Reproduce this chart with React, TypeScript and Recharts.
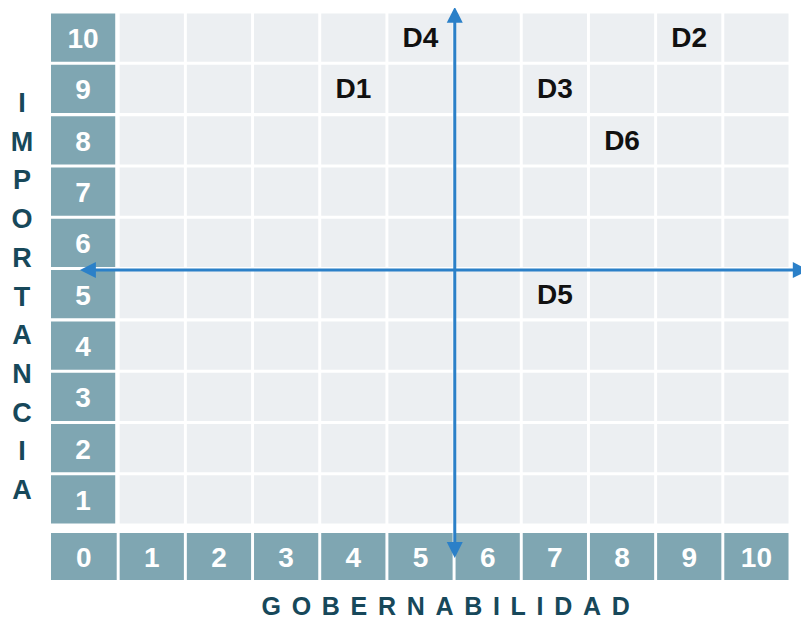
import { ScatterChart, Scatter, XAxis, YAxis, ReferenceArea, ReferenceLine } from 'recharts';

const COLUMNS = [0, 1, 2, 3, 4, 5, 6, 7, 8, 9, 10];
const ROWS = [1, 2, 3, 4, 5, 6, 7, 8, 9, 10];
const FACTORS = ['D1', 'D2', 'D3', 'D4', 'D5', 'D6'];
const GOBERNABILIDAD = [4, 9, 7, 5, 7, 8];
const IMPORTANCIA = [9, 10, 9, 10, 5, 8];
const Y_TITLE = 'IMPORTANCIA';
const X_TITLE = 'GOBERNABILIDAD';

const TEAL = '#7fa6b2';
const CELL = '#eceff2';
const BLUE = '#2b80c8';
const DARK = '#17485a';
const FONT = '"Liberation Sans", Arial, sans-serif';

const points = FACTORS.map((name, i) => ({ name, x: GOBERNABILIDAD[i], y: IMPORTANCIA[i] }));

const G = 0.022; // half gap between cells (x units)
const GY = 0.03;

const Arrow = (props: any) => {
  const { x1, y1, x2, y2 } = props;
  const dx = x2 - x1;
  const dy = y2 - y1;
  const len = Math.sqrt(dx * dx + dy * dy) || 1;
  const ux = dx / len;
  const uy = dy / len;
  const head = 16;
  const w = 8;
  const tri = (tx: number, ty: number, dirx: number, diry: number) => {
    const bx = tx - dirx * head;
    const by = ty - diry * head;
    return `${tx},${ty} ${bx - diry * w},${by + dirx * w} ${bx + diry * w},${by - dirx * w}`;
  };
  return (
    <g>
      <line x1={x1 + ux * 10} y1={y1 + uy * 10} x2={x2 - ux * 10} y2={y2 - uy * 10} stroke={BLUE} strokeWidth={3} />
      <polygon points={tri(x2, y2, ux, uy)} fill={BLUE} />
      <polygon points={tri(x1, y1, -ux, -uy)} fill={BLUE} />
    </g>
  );
};

// white number centred in a teal cell
const cellLabel = (value: number) => (props: any) => {
  const vb = props.viewBox || {};
  return (
    <text
      x={vb.x + vb.width / 2}
      y={vb.y + vb.height / 2 + 1}
      textAnchor="middle"
      dominantBaseline="central"
      fill="#ffffff"
      fontSize={28}
      fontWeight="bold"
      fontFamily={FONT}
    >
      {value}
    </text>
  );
};

export default function App() {
  return (
    <div style={{ margin: '-8px 0 0 -8px', width: 809, height: 623, background: '#fff' }}>
      <ScatterChart width={809} height={623} margin={{ top: 12, right: 19, bottom: 43, left: 51 }}>
        <XAxis type="number" dataKey="x" domain={[-0.5, 10.5]} hide />
        <YAxis type="number" dataKey="y" domain={[-0.57, 10.5]} hide />
        {ROWS.map((r) =>
          COLUMNS.map((c) =>
            c === 0 ? (
              <ReferenceArea
                key={`l${r}`}
                x1={c - 0.5}
                x2={c + 0.5 - 2 * G}
                y1={r - 0.5 + GY}
                y2={r + 0.5 - GY}
                fill={TEAL}
                fillOpacity={1}
                ifOverflow="visible"
                label={cellLabel(r)}
              />
            ) : (
              <ReferenceArea
                key={`c${r}-${c}`}
                x1={c - 0.5 + G}
                x2={c + 0.5 - G}
                y1={r - 0.5 + GY}
                y2={r + 0.5 - GY}
                fill={CELL}
                fillOpacity={1}
                ifOverflow="visible"
              />
            )
          )
        )}
        {COLUMNS.map((c) => (
          <ReferenceArea
            key={`b${c}`}
            x1={c === 0 ? c - 0.5 : c - 0.5 + G}
            x2={c + 0.5 - G}
            y1={-0.57}
            y2={0.344}
            fill={TEAL}
            fillOpacity={1}
            ifOverflow="visible"
            label={cellLabel(c)}
          />
        ))}
        <ReferenceLine
          segment={[{ x: 5.51, y: 10.6 }, { x: 5.51, y: -0.14 }]}
          ifOverflow="visible"
          shape={Arrow}
        />
        <ReferenceLine
          segment={[{ x: -0.07, y: 5.47 }, { x: 10.78, y: 5.47 }]}
          ifOverflow="visible"
          shape={Arrow}
        />
        <Scatter
          data={points}
          isAnimationActive={false}
          shape={(p: any) => (
            <text
              x={p.cx}
              y={p.cy}
              textAnchor="middle"
              dominantBaseline="central"
              fontSize={28}
              fontWeight="bold"
              fontFamily={FONT}
              fill="#111"
            >
              {p.payload.name}
            </text>
          )}
        />
        {Y_TITLE.split('').map((ch, i) => (
          <text
            key={`t${i}`}
            x={22}
            y={103 + i * 38.7}
            textAnchor="middle"
            dominantBaseline="central"
            fontSize={27}
            fontWeight="bold"
            fontFamily={FONT}
            fill={DARK}
          >
            {ch}
          </text>
        ))}
        <text
          x={451}
          y={606}
          textAnchor="middle"
          dominantBaseline="central"
          fontSize={25}
          fontWeight="bold"
          fontFamily={FONT}
          fill={DARK}
          letterSpacing={10.7}
        >
          {X_TITLE}
        </text>
      </ScatterChart>
    </div>
  );
}
